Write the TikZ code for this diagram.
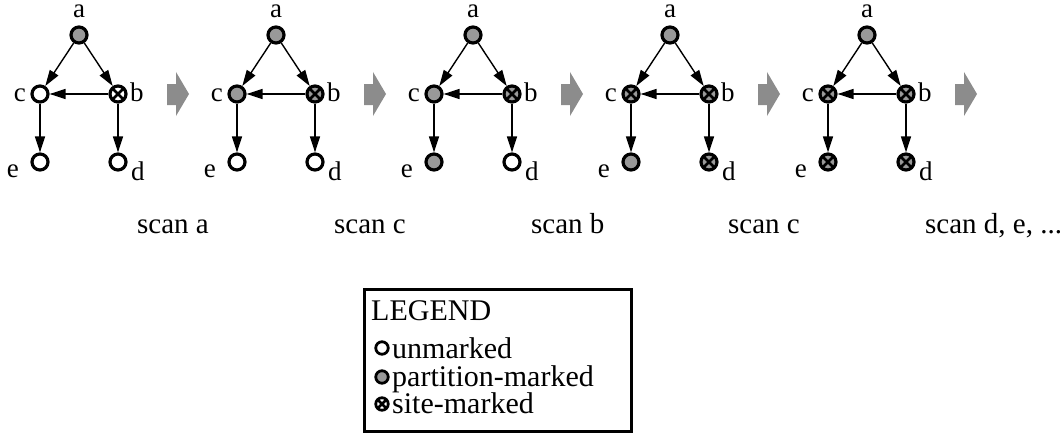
\documentclass[tikz,border=0pt]{standalone}
\usepackage{fontspec}
\setmainfont{Liberation Serif}
\usetikzlibrary{arrows.meta}
\definecolor{nodegray}{HTML}{999999}
\definecolor{arrgray}{HTML}{8C8C8C}
\tikzset{
  vtx/.style={circle, draw=black, line width=3.2pt, minimum size=16pt, inner sep=0pt, fill=white},
  part/.style={vtx, fill=nodegray},
  xmark/.style={path picture={\draw[line width=2.6pt] (path picture bounding box.north west) -- (path picture bounding box.south east) (path picture bounding box.north east) -- (path picture bounding box.south west);}},
  siteW/.style={vtx, xmark},
  siteG/.style={part, xmark},
  small/.style={line width=2.8pt, minimum size=12.5pt},
  edge/.style={line width=1.4pt, -{Triangle[length=16pt,width=10pt]}},
  txt/.style={font=\fontsize{27}{32}\selectfont, inner sep=0pt, text height=16pt, text depth=4pt},
  scantxt/.style={font=\fontsize{29}{34}\selectfont, inner sep=0pt},
  legtxt/.style={font=\fontsize{30}{36}\selectfont, inner sep=0pt, text height=19pt, text depth=6pt},
  blockarrow/.style={fill=arrgray},
}
\begin{document}
\begin{tikzpicture}[x=1pt,y=-1pt]
\useasboundingbox (0,0) rectangle (1060,436);
\foreach \i/\sa/\sc/\sb/\se/\sd in {0/part/vtx/siteW/vtx/vtx, 1/part/part/siteG/vtx/vtx, 2/part/part/siteG/part/vtx, 3/part/siteG/siteG/part/siteG, 4/part/siteG/siteG/siteG/siteG}{
  \begin{scope}[xshift=197*\i]
    \node[\sa] (a\i) at (79,35) {};
    \node[\sc] (c\i) at (40,94) {};
    \node[\sb] (b\i) at (118,94) {};
    \node[\se] (e\i) at (40,162) {};
    \node[\sd] (d\i) at (118,162) {};
    \draw[edge] (a\i) -- (c\i);
    \draw[edge] (a\i) -- (b\i);
    \draw[edge] (b\i) -- (c\i);
    \draw[edge] (c\i) -- (e\i);
    \draw[edge] (b\i) -- (d\i);
    \node[txt, anchor=base] (la\i) at (79,18) {a};
    \node[txt, anchor=base east] (lc\i) at (26,101) {c};
    \node[txt, anchor=base west] (lb\i) at (130,101) {b};
    \node[txt, anchor=base east] (le\i) at (19,177) {e};
    \node[txt, anchor=base west] (ld\i) at (131,180) {d};
    \fill[blockarrow] (167,84) -- (176,84) -- (176,72) -- (189,94) -- (176,116) -- (176,105) -- (167,105) -- cycle;
  \end{scope}
}
\node[scantxt, anchor=base west] (s0) at (137,233) {scan a};
\node[scantxt, anchor=base west] (s1) at (334,233) {scan c};
\node[scantxt, anchor=base west] (s2) at (531,233) {scan b};
\node[scantxt, anchor=base west] (s3) at (728,233) {scan c};
\node[scantxt, anchor=base west] (s4) at (925,233) {scan d, e, ...};
% legend
\draw[line width=3pt] (364,289) rectangle (631,431);
\node[legtxt, anchor=base west] (lg) at (371,320) {LEGEND};
\node[vtx, small] (l1) at (382,348) {};
\node[legtxt, anchor=base west] (t1) at (392,358) {unmarked};
\node[part, small] (l2) at (382,377) {};
\node[legtxt, anchor=base west] (t2) at (392,386) {partition-marked};
\node[siteW, small] (l3) at (382,404) {};
\node[legtxt, anchor=base west] (t3) at (392,413) {site-marked};
\end{tikzpicture}
\end{document}
